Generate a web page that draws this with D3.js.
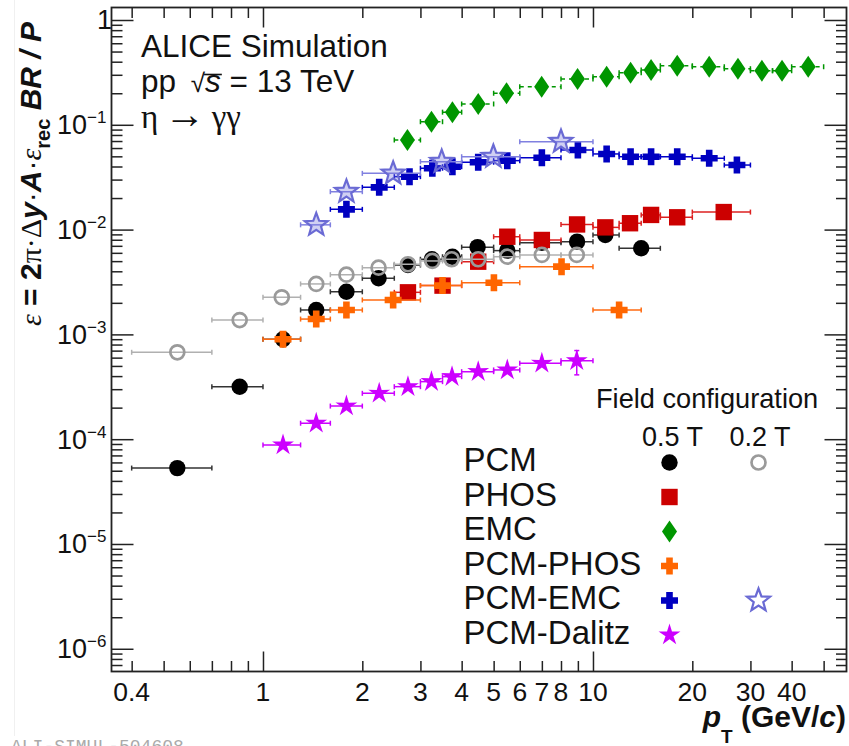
<!DOCTYPE html>
<html>
<head>
<meta charset="utf-8">
<script src="https://cdn.jsdelivr.net/npm/d3@7"></script>
<style>
  body { margin: 0; background: #fff; }
  svg { display: block; font-family: "Liberation Sans", Arial, Helvetica, sans-serif; }
</style>
</head>
<body>
<svg id="chart" width="849" height="746"></svg>
<script>
// η → γγ: efficiency × acceptance × BR / P versus pT for each reconstruction method

// PCM, 0.5 T
const pcm05Pt  = [0.55, 0.85, 1.15, 1.45, 1.79, 2.24, 2.75, 3.25, 3.75, 4.47, 5.5, 7.0, 8.95, 10.9, 14.0];
const pcm05Lo  = [0.4, 0.7, 1.0, 1.3, 1.6, 2.0, 2.5, 3.0, 3.5, 4, 5, 6, 8, 10, 12];
const pcm05Hi  = [0.7, 1.0, 1.3, 1.6, 2.0, 2.5, 3.0, 3.5, 4.0, 5, 6, 8, 10, 12, 16];
const pcm05Eff = [5.3e-5, 3.17e-4, 9.0e-4, 1.71e-3, 2.55e-3, 3.43e-3, 4.59e-3, 5.21e-3, 5.51e-3, 6.8e-3, 6.3e-3, 7.5e-3, 7.67e-3, 8.88e-3, 6.63e-3];

// PCM, 0.2 T
const pcm02Pt  = [0.55, 0.85, 1.14, 1.45, 1.79, 2.24, 2.75, 3.26, 3.73, 4.49, 5.5, 7.0, 8.93];
const pcm02Lo  = [0.4, 0.7, 1.0, 1.3, 1.6, 2.0, 2.5, 3.0, 3.5, 4, 5, 6, 8];
const pcm02Hi  = [0.7, 1.0, 1.3, 1.6, 2.0, 2.5, 3.0, 3.5, 4.0, 5, 6, 8, 10];
const pcm02Eff = [6.75e-4, 1.37e-3, 2.26e-3, 3.03e-3, 3.71e-3, 4.33e-3, 4.67e-3, 5.02e-3, 5.21e-3, 5.21e-3, 5.51e-3, 5.73e-3, 5.73e-3];

// PHOS
const phosPt  = [2.75, 3.5, 4.49, 5.5, 7.0, 8.95, 10.9, 12.95, 15.0, 18.0, 24.9];
const phosLo  = [2.5, 3, 4, 5, 6, 8, 10, 12, 14, 16, 20];
const phosHi  = [3, 4, 5, 6, 8, 10, 12, 14, 16, 20, 30];
const phosEff = [2.52e-3, 2.92e-3, 4.94e-3, 8.55e-3, 7.96e-3, 1.12e-2, 1.05e-2, 1.15e-2, 1.38e-2, 1.31e-2, 1.47e-2];

// EMC
const emcPt  = [2.74, 3.24, 3.75, 4.49, 5.47, 6.99, 8.98, 11.0, 13.0, 15.0, 18.0, 22.5, 27.5, 32.5, 37.4, 44.9];
const emcLo  = [2.5, 3, 3.5, 4, 5, 6, 8, 10, 12, 14, 16, 20, 25, 30, 35, 40];
const emcHi  = [3, 3.5, 4, 5, 6, 8, 10, 12, 14, 16, 20, 25, 30, 35, 40, 50];
const emcEff = [0.0716, 0.107, 0.132, 0.158, 0.200, 0.231, 0.274, 0.288, 0.314, 0.333, 0.366, 0.358, 0.343, 0.328, 0.328, 0.358];

// PCM-PHOS
const pcmPhosPt  = [1.15, 1.45, 1.79, 2.48, 3.5, 5.01, 8.03, 12.0];
const pcmPhosLo  = [1, 1.3, 1.6, 2, 3, 4, 6, 10];
const pcmPhosHi  = [1.3, 1.6, 2, 3, 4, 6, 10, 14];
const pcmPhosEff = [9.0e-4, 1.40e-3, 1.71e-3, 2.13e-3, 2.92e-3, 3.11e-3, 4.43e-3, 1.71e-3];

// PCM-EMC, 0.5 T
const pcmEmc05Pt  = [1.79, 2.25, 2.78, 3.26, 3.75, 4.49, 5.5, 7.0, 9.0, 11.0, 13.0, 15.0, 18.0, 22.5, 27.3];
const pcmEmc05Lo  = [1.6, 2, 2.5, 3, 3.5, 4, 5, 6, 8, 10, 12, 14, 16, 20, 25];
const pcmEmc05Hi  = [2, 2.5, 3, 3.5, 4, 5, 6, 8, 10, 12, 14, 16, 20, 25, 30];
const pcmEmc05Eff = [1.56e-2, 2.53e-2, 3.20e-2, 3.85e-2, 3.98e-2, 4.39e-2, 4.55e-2, 4.85e-2, 5.75e-2, 5.27e-2, 4.96e-2, 4.96e-2, 4.96e-2, 4.79e-2, 4.13e-2];

// PCM-EMC, 0.2 T
const pcmEmc02Pt  = [1.45, 1.79, 2.48, 3.48, 4.99, 8.0];
const pcmEmc02Lo  = [1.3, 1.6, 2, 3, 4, 6];
const pcmEmc02Hi  = [1.6, 2, 3, 4, 6, 10];
const pcmEmc02Eff = [1.11e-2, 2.30e-2, 3.44e-2, 4.45e-2, 4.96e-2, 6.9e-2];

// PCM-Dalitz
const dalitzPt   = [1.15, 1.45, 1.79, 2.25, 2.75, 3.24, 3.74, 4.49, 5.5, 7.0, 8.93];
const dalitzLo   = [1, 1.3, 1.6, 2, 2.5, 3, 3.5, 4, 5, 6, 8];
const dalitzHi   = [1.3, 1.6, 2, 2.5, 3, 3.5, 4, 5, 6, 8, 10];
const dalitzEff  = [8.81e-5, 1.42e-4, 2.07e-4, 2.74e-4, 3.17e-4, 3.54e-4, 3.95e-4, 4.41e-4, 4.58e-4, 5.30e-4, 5.61e-4];
const dalitzErrUp = [0, 0, 0, 0, 0, 0, 0, 0, 0, 0.2e-4, 1.4e-4];
const dalitzErrDn = [0, 0, 0, 0, 0, 0, 0, 0, 0, 0.2e-4, 1.5e-4];

// axis labels
const xTickLabels = [0.4, 1, 2, 3, 4, 5, 6, 7, 8, 10, 20, 30, 40];
const yTickExponents = [-6, -5, -4, -3, -2, -1, 0];

const legendLabels = ["PCM", "PHOS", "EMC", "PCM-PHOS", "PCM-EMC", "PCM-Dalitz"];

// ---------------------------------------------------------------------------
const svg = d3.select("#chart");
const frame = { left: 111.5, right: 846.5, top: 7.5, bottom: 671.5 };

const x = d3.scaleLog().domain([0.3475, 58.65]).range([frame.left, frame.right]);
const y = d3.scaleLog().domain([6.07e-7, 1.316]).range([frame.bottom, frame.top]);

// marker shapes, centred on the origin
const shape = {
  circle: r => `M${-r},0A${r},${r} 0 1,0 ${r},0A${r},${r} 0 1,0 ${-r},0Z`,
  square: a => `M${-a},${-a}H${a}V${a}H${-a}Z`,
  diamond: (w, h) => `M0,${-h}L${w},0L0,${h}L${-w},0Z`,
  cross: (s, t) => `M${-t},${-s}H${t}V${-t}H${s}V${t}H${t}V${s}H${-t}V${t}H${-s}V${-t}H${-t}Z`,
  star: (R, r) => {
    const pts = d3.range(10).map(i => {
      const a = -Math.PI / 2 + i * Math.PI / 5;
      const rad = i % 2 === 0 ? R : r;
      return [rad * Math.cos(a), rad * Math.sin(a)];
    });
    return "M" + pts.map(p => p[0].toFixed(2) + "," + p[1].toFixed(2)).join("L") + "Z";
  }
};

const series = [
  { pt: pcm05Pt, lo: pcm05Lo, hi: pcm05Hi, eff: pcm05Eff, bar: "#333", path: shape.circle(8.2), fill: "#000", stroke: "none" },
  { pt: phosPt, lo: phosLo, hi: phosHi, eff: phosEff, bar: "#dd2020", path: shape.square(8.2), fill: "#cc0000", stroke: "none" },
  { pt: pcm02Pt, lo: pcm02Lo, hi: pcm02Hi, eff: pcm02Eff, bar: "#b0b0b0", path: shape.circle(7), fill: "none", stroke: "#9a9a9a", sw: 2.7 },
  { pt: emcPt, lo: emcLo, hi: emcHi, eff: emcEff, bar: "#009600", dash: "4,4", path: shape.diamond(7.5, 11), fill: "#009600", stroke: "none" },
  { pt: pcmPhosPt, lo: pcmPhosLo, hi: pcmPhosHi, eff: pcmPhosEff, bar: "#ff6a10", path: shape.cross(8.5, 3.3), fill: "#ff6600", stroke: "none" },
  { pt: pcmEmc05Pt, lo: pcmEmc05Lo, hi: pcmEmc05Hi, eff: pcmEmc05Eff, bar: "#0000c8", path: shape.cross(8.5, 3.3), fill: "#0000c0", stroke: "none" },
  { pt: pcmEmc02Pt, lo: pcmEmc02Lo, hi: pcmEmc02Hi, eff: pcmEmc02Eff, bar: "#8080e0", path: shape.star(12, 5), fill: "rgba(120,120,220,0.35)", stroke: "#6a6ad4", sw: 2.2 },
  { pt: dalitzPt, lo: dalitzLo, hi: dalitzHi, eff: dalitzEff, up: dalitzErrUp, dn: dalitzErrDn, bar: "#cc00ff", path: shape.star(11.5, 4.2), fill: "#cc00ff", stroke: "none" }
];

// ---- frame and axes -------------------------------------------------------
function logTicks(scale) {
  const [a, b] = scale.domain();
  const out = [];
  for (let e = Math.floor(Math.log10(a)); e <= Math.ceil(Math.log10(b)); e++) {
    for (let k = 1; k <= 9; k++) {
      const v = k * Math.pow(10, e);
      if (v >= a && v <= b) out.push(+v.toPrecision(6));
    }
  }
  return out;
}
const isDecade = v => Math.abs(Math.log10(v) - Math.round(Math.log10(v))) < 1e-9;
const xMajor = logTicks(x).filter(isDecade), xMinor = logTicks(x).filter(v => !isDecade(v));
const yMajor = logTicks(y).filter(isDecade), yMinor = logTicks(y).filter(v => !isDecade(v));

function tickAxis(gen, values, size, transform) {
  svg.append("g")
    .attr("transform", transform)
    .attr("color", "#222")
    .call(gen.tickValues(values).tickSize(size).tickSizeOuter(0).tickFormat(""))
    .call(g => g.select(".domain").remove())
    .call(g => g.selectAll(".tick line").attr("stroke-width", 1.5));
}
// ticks drawn inward on all four sides
tickAxis(d3.axisBottom(x), xMajor, -20, `translate(0,${frame.bottom})`);
tickAxis(d3.axisBottom(x), xMinor, -10.5, `translate(0,${frame.bottom})`);
tickAxis(d3.axisTop(x), xMajor, -20, `translate(0,${frame.top})`);
tickAxis(d3.axisTop(x), xMinor, -10.5, `translate(0,${frame.top})`);
tickAxis(d3.axisLeft(y), yMajor, -22, `translate(${frame.left},0)`);
tickAxis(d3.axisLeft(y), yMinor, -11, `translate(${frame.left},0)`);
tickAxis(d3.axisRight(y), yMajor, -22, `translate(${frame.right},0)`);
tickAxis(d3.axisRight(y), yMinor, -10.5, `translate(${frame.right},0)`);

svg.append("rect")
  .attr("x", frame.left).attr("y", frame.top)
  .attr("width", frame.right - frame.left).attr("height", frame.bottom - frame.top)
  .attr("fill", "none").attr("stroke", "#222").attr("stroke-width", 1.8);

// x tick labels
svg.append("g").selectAll("text").data(xTickLabels).join("text")
  .attr("x", d => x(d)).attr("y", 700.5)
  .attr("text-anchor", "middle").attr("font-size", 26.5).attr("fill", "#111")
  .text(d => d);

// y tick labels: 1 and 10^k
const yLab = svg.append("g").attr("fill", "#111");
yTickExponents.forEach(e => {
  const yy = y(Math.pow(10, e)) + 9.5;
  if (e === 0) {
    yLab.append("text").attr("x", 112).attr("y", yy).attr("text-anchor", "end")
      .attr("font-size", 27).text("1");
  } else {
    const t = yLab.append("text").attr("x", 106.5).attr("y", yy).attr("text-anchor", "end").attr("font-size", 27);
    t.append("tspan").text("10");
    t.append("tspan").attr("font-size", 17).attr("dy", -11).text("\u2212" + Math.abs(e));
  }
});

// axis titles
const xt = svg.append("text").attr("x", 846).attr("y", 727).attr("text-anchor", "end")
  .attr("font-size", 30).attr("font-weight", "bold").attr("fill", "#111");
xt.append("tspan").attr("font-style", "italic").text("p");
xt.append("tspan").attr("font-size", 19).attr("dy", 16).text("T");
xt.append("tspan").attr("dy", -16).text(" (GeV/");
xt.append("tspan").attr("font-style", "italic").text("c");
xt.append("tspan").text(")");

const yt = svg.append("text").attr("transform", "translate(40.5,22) rotate(-90)")
  .attr("text-anchor", "end").attr("font-size", 30).attr("font-weight", "bold").attr("fill", "#111");
yt.append("tspan").attr("font-family", "Liberation Serif").attr("font-style", "italic").attr("font-weight", "normal").text("\u03b5");
yt.append("tspan").text(" = 2");
yt.append("tspan").attr("font-family", "Liberation Serif").attr("font-weight", "normal").text("\u03c0\u00b7\u0394");
yt.append("tspan").attr("font-style", "italic").text("y");
yt.append("tspan").attr("font-weight", "normal").text("\u00b7");
yt.append("tspan").attr("font-style", "italic").text("A");
yt.append("tspan").attr("font-weight", "normal").text("\u00b7");
yt.append("tspan").attr("font-family", "Liberation Serif").attr("font-style", "italic").attr("font-weight", "normal").text("\u03b5");
yt.append("tspan").attr("font-size", 20).attr("dy", 9).text("rec");
yt.append("tspan").attr("dy", -9).attr("font-style", "italic").text(" BR / P");

// ---- data -------------------------------------------------------------------
const plot = svg.append("g");
series.forEach(s => {
  const g = plot.append("g");
  const rows = s.pt.map((p, i) => ({ p, lo: s.lo[i], hi: s.hi[i], v: s.eff[i], up: s.up ? s.up[i] : 0, dn: s.dn ? s.dn[i] : 0 }));
  const bars = g.append("g").attr("stroke", s.bar).attr("stroke-width", 1.5).attr("fill", "none");
  rows.forEach(r => {
    const yy = y(r.v);
    bars.append("line").attr("x1", x(r.lo)).attr("x2", x(r.hi)).attr("y1", yy).attr("y2", yy)
      .attr("stroke-dasharray", s.dash || null);
    bars.append("line").attr("x1", x(r.lo)).attr("x2", x(r.lo)).attr("y1", yy - 2.5).attr("y2", yy + 2.5);
    bars.append("line").attr("x1", x(r.hi)).attr("x2", x(r.hi)).attr("y1", yy - 2.5).attr("y2", yy + 2.5);
    if (r.up > 0 || r.dn > 0) {
      const xx = x(r.p);
      bars.append("line").attr("x1", xx).attr("x2", xx).attr("y1", y(r.v + r.up)).attr("y2", y(r.v - r.dn));
      bars.append("line").attr("x1", xx - 2.5).attr("x2", xx + 2.5).attr("y1", y(r.v + r.up)).attr("y2", y(r.v + r.up));
      bars.append("line").attr("x1", xx - 2.5).attr("x2", xx + 2.5).attr("y1", y(r.v - r.dn)).attr("y2", y(r.v - r.dn));
    }
  });
  g.append("g").selectAll("path").data(rows).join("path")
    .attr("transform", r => `translate(${x(r.p)},${y(r.v)})`)
    .attr("d", s.path).attr("fill", s.fill).attr("stroke", s.stroke).attr("stroke-width", s.sw || 0);
});

// ---- text block, top left ---------------------------------------------------
const info = svg.append("g").attr("fill", "#111").attr("font-size", 31.5);
info.append("text").attr("x", 141).attr("y", 57).text("ALICE Simulation");
const ppLine = info.append("text").attr("x", 141).attr("y", 92);
ppLine.append("tspan").text("pp ");
ppLine.append("tspan").attr("dx", 6).attr("font-size", 26).text("\u221a");
ppLine.append("tspan").attr("font-style", "italic").text("s");
ppLine.append("tspan").text(" = 13 TeV");
{
  const node = ppLine.node();
  const sIdx = 4; // "pp " + "√" → index of "s"
  const sx0 = node.getStartPositionOfChar(sIdx).x;
  const sx1 = node.getEndPositionOfChar(sIdx).x;
  info.append("line").attr("x1", sx0 - 1).attr("x2", sx1 + 1).attr("y1", 74.5).attr("y2", 74.5)
    .attr("stroke", "#111").attr("stroke-width", 1.6);
}
const etaLine = info.append("text").attr("x", 141).attr("y", 128).attr("font-family", "Liberation Serif").attr("font-size", 33);
etaLine.append("tspan").text("\u03b7 ");
etaLine.append("tspan").attr("font-family", "Liberation Sans").attr("font-size", 41).attr("dx", -2).text("\u2192");
etaLine.append("tspan").attr("dx", -2).text(" \u03b3\u03b3");

// ---- legend -------------------------------------------------------------------
const leg = svg.append("g").attr("fill", "#111");
leg.append("text").attr("x", 596).attr("y", 407.5).attr("font-size", 27.2).text("Field configuration");
leg.append("text").attr("x", 672.5).attr("y", 445.5).attr("text-anchor", "middle").attr("font-size", 27).text("0.5 T");
leg.append("text").attr("x", 760).attr("y", 445.5).attr("text-anchor", "middle").attr("font-size", 27).text("0.2 T");

const legX05 = 669.5, legX02 = 758.5;
const legMarkers05 = [series[0], series[1], series[3], series[4], series[5], series[7]];
legendLabels.forEach((lab, i) => {
  const yy = 462.5 + i * 34.5;
  leg.append("text").attr("x", 463.5).attr("y", yy + 8.5).attr("font-size", 33).text(lab);
  const s = legMarkers05[i];
  leg.append("path").attr("transform", `translate(${legX05},${yy})`).attr("d", s.path)
    .attr("fill", s.fill).attr("stroke", s.stroke).attr("stroke-width", s.sw || 0);
});
leg.append("path").attr("transform", `translate(${legX02},462.5)`).attr("d", series[2].path)
  .attr("fill", "none").attr("stroke", series[2].stroke).attr("stroke-width", series[2].sw);
leg.append("path").attr("transform", `translate(${legX02},600.5)`).attr("d", series[6].path)
  .attr("fill", "#fff").attr("stroke", series[6].stroke).attr("stroke-width", series[6].sw);

// ---- figure id, bottom left ---------------------------------------------------
svg.append("line").attr("x1", 14.5).attr("x2", 14.5).attr("y1", 0).attr("y2", 736)
  .attr("stroke", "#f0f0f0").attr("stroke-width", 1);
svg.append("text").attr("x", 11).attr("y", 752).attr("font-family", "Liberation Mono")
  .attr("font-size", 18).attr("fill", "#aaa").text("ALI-SIMUL-504608");
</script>
</body>
</html>
